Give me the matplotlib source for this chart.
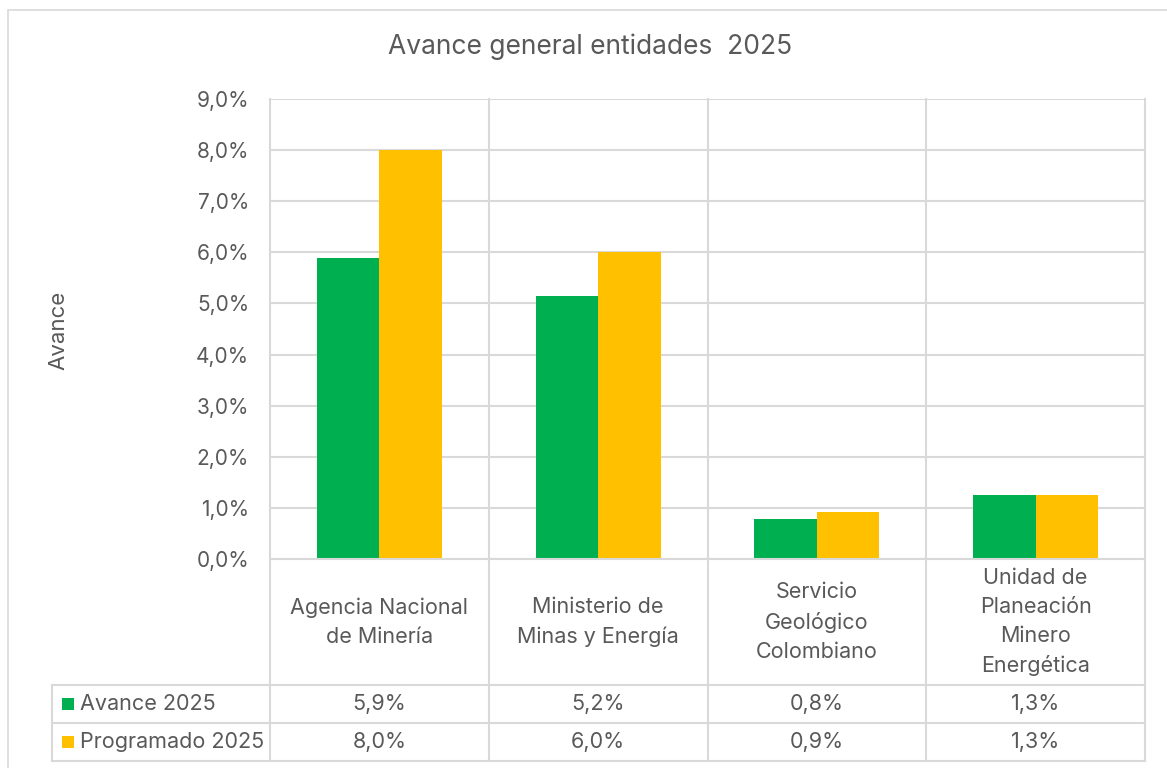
import matplotlib
matplotlib.use("Agg")
import matplotlib.pyplot as plt
from matplotlib.lines import Line2D
from matplotlib.patches import Rectangle
import numpy as np

categories = ["Agencia Nacional\nde Minería", "Ministerio de\nMinas y Energía",
              "Servicio\nGeológico\nColombiano", "Unidad de\nPlaneación\nMinero\nEnergética"]
avance = [5.88, 5.15, 0.78, 1.26]
programado = [8.0, 6.0, 0.92, 1.26]
avance_txt = ["5,9%", "5,2%", "0,8%", "1,3%"]
programado_txt = ["8,0%", "6,0%", "0,9%", "1,3%"]
series = ["Avance 2025", "Programado 2025"]
colors = ["#00B050", "#FFC000"]
yticks = np.arange(0, 10, 1)

W, H = 1167, 768
GRID = "#D9D9D9"
TXT = "#595959"
plt.rcParams["font.family"] = ["Inter", "DejaVu Sans"]

def fx(x):
    return x / W

def fy(y):
    return 1 - y / H

fig = plt.figure(figsize=(W / 100, H / 100), dpi=100)
L, R, T, B = 270, 1145, 99, 559
ax = fig.add_axes([fx(L), fy(B), fx(R) - fx(L), fy(T) - fy(B)])
ax.patch.set_visible(False)

x = np.arange(len(categories))
bw = 0.2857
ax.bar(x - bw / 2, avance, bw, color=colors[0], zorder=3)
ax.bar(x + bw / 2, programado, bw, color=colors[1], zorder=3)
ax.set_xlim(-0.5, len(categories) - 0.5)
ax.set_ylim(0, 9)
ax.set_yticks(yticks)
ax.set_yticklabels([f"{v:.1f}%".replace(".", ",") for v in yticks], fontsize=15, color=TXT)
ax.tick_params(axis="y", length=0, pad=15)
ax.set_xticks([])
ax.grid(axis="y", color=GRID, lw=1.5, zorder=0)
for s in ax.spines.values():
    s.set_visible(False)
fig.text(fx(58), fy(330), "Avance", rotation=90, ha="center", va="center",
         fontsize=16, color=TXT)

# category boundaries / table lines
col_w = (R - L) / len(categories)
for i in range(len(categories) + 1):
    xx = L + i * col_w
    fig.add_artist(Line2D([fx(xx), fx(xx)], [fy(T), fy(761)], color=GRID, lw=1.5, zorder=0))
for yy, x0 in [(559, L), (685, 52), (723, 52), (761, 52)]:
    fig.add_artist(Line2D([fx(x0), fx(R)], [fy(yy), fy(yy)], color=GRID, lw=1.5))
fig.add_artist(Line2D([fx(52), fx(52)], [fy(685), fy(761)], color=GRID, lw=1.5))

# outer chart border
fig.add_artist(Rectangle((fx(8), fy(775)), fx(1170), fy(10) - fy(775), fill=False,
                         edgecolor=GRID, lw=1.2))

# category labels
for i, c in enumerate(categories):
    fig.text(fx(L + (i + 0.5) * col_w), fy(622), c, ha="center", va="center",
             fontsize=15.5, color=TXT, linespacing=1.55)

# data table
rows = [avance_txt, programado_txt]
for r, (name, vals, col) in enumerate(zip(series, rows, colors)):
    yc = 704 + r * 38
    fig.add_artist(Rectangle((fx(62), fy(yc + 6)), fx(12), fy(yc - 6) - fy(yc + 6),
                             color=col, lw=0))
    fig.text(fx(80), fy(yc), name, ha="left", va="center", fontsize=15.5, color=TXT)
    for i, v in enumerate(vals):
        fig.text(fx(L + (i + 0.5) * col_w), fy(yc), v, ha="center", va="center",
                 fontsize=15.5, color=TXT)

fig.text(fx(590), fy(47), "Avance general entidades  2025", ha="center", va="center",
         fontsize=19, color=TXT)

fig.savefig("out.png", dpi=100)
